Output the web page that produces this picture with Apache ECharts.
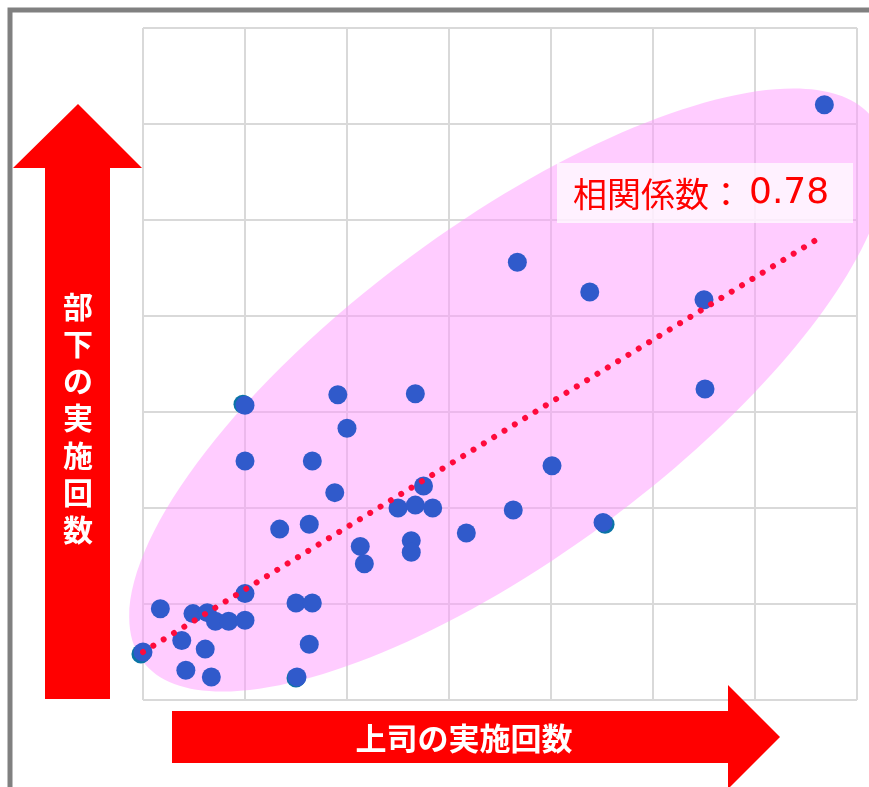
<!DOCTYPE html>
<html>
<head>
<meta charset="utf-8">
<script src="https://cdn.jsdelivr.net/npm/echarts@6/dist/echarts.min.js"></script>
<style>
  html, body { margin: 0; padding: 0; background: #ffffff; }
  #chart { width: 869px; height: 787px; }
</style>
</head>
<body>
<div id="chart"></div>
<script>
// 上司の実施回数 (x) と 部下の実施回数 (y)
var xValues = [0.0, 1.7, 3.8, 4.2, 4.9, 6.1, 6.3, 6.7, 7.1, 8.4, 10.0, 10.0, 10.0, 10.0, 13.4, 15.0, 15.1, 16.3, 16.3, 16.6, 16.6, 18.8, 19.1, 20.0, 21.3, 21.7, 25.0, 26.3, 26.3, 26.7, 26.7, 27.5, 28.4, 31.7, 36.3, 36.7, 40.1, 43.8, 45.1, 55.0, 55.1, 66.8];
var yValues = [5.0, 9.5, 6.2, 3.1, 9.0, 5.3, 9.1, 2.4, 8.2, 8.2, 8.3, 11.1, 30.7, 24.9, 17.8, 10.1, 2.4, 18.3, 5.8, 10.1, 24.9, 21.6, 31.8, 28.3, 16.0, 14.2, 20.0, 16.6, 15.4, 20.3, 31.9, 22.3, 20.0, 17.4, 19.8, 45.6, 24.4, 42.5, 18.5, 41.7, 32.4, 62.0];
// partially hidden second-colour markers
var tealX = [-0.2, 9.8, 45.3, 15.0];
var tealY = [4.8, 30.8, 18.3, 2.3];
// trend line end points
var trendX = [0, 66.1];
var trendY = [5.0, 48.0];
var corrPrefix = '相関係数：';
var corrValue = '0.78';
var xTitle = '上司の実施回数';
var yTitle = '部下の実施回数';

function pairs(xs, ys) { return xs.map(function (x, i) { return [x, ys[i]]; }); }

var chart = echarts.init(document.getElementById('chart'), null, { renderer: 'canvas' });
var FONT = '"Noto Sans CJK JP", "Noto Sans", sans-serif';

var option = {
  animation: false,
  backgroundColor: '#ffffff',
  grid: { left: 143, right: 12, top: 28, bottom: 87, show: false },
  xAxis: {
    type: 'value', min: 0, max: 70, interval: 10,
    axisLine: { show: false }, axisTick: { show: false }, axisLabel: { show: false },
    splitLine: { show: true, lineStyle: { color: '#d9d9d9', width: 2 } }
  },
  yAxis: {
    type: 'value', min: 0, max: 70, interval: 10,
    axisLine: { show: false }, axisTick: { show: false }, axisLabel: { show: false },
    splitLine: { show: true, lineStyle: { color: '#d9d9d9', width: 2 } }
  },
  graphic: [
    { type: 'rect', z: 0, shape: { x: 10, y: 10, width: 1000, height: 1000 },
      style: { fill: null, stroke: '#808080', lineWidth: 5 } },
    { type: 'ellipse', z: 1, x: 508, y: 390, rotation: 36.5 * Math.PI / 180,
      shape: { cx: 0, cy: 0, rx: 455, ry: 165 },
      style: { fill: 'rgba(255,153,255,0.5)' } },
    { type: 'rect', z: 1, shape: { x: 557, y: 163, width: 296, height: 60 },
      style: { fill: 'rgba(255,255,255,0.72)' } },
    { type: 'text', z: 5, x: 573, y: 194,
      style: {
        text: '{a|' + corrPrefix + '}{b|' + corrValue + '}',
        textAlign: 'left', textVerticalAlign: 'middle',
        rich: {
          a: { fill: '#ff0000', font: '34px ' + FONT },
          b: { fill: '#ff0000', font: '36px "DejaVu Sans", sans-serif', padding: [0, 0, 0, 6] }
        }
      } },
    { type: 'polygon', z: 5,
      shape: { points: [[78, 104], [142, 168], [110, 168], [110, 699], [45, 699], [45, 168], [13, 168]] },
      style: { fill: '#ff0000' } },
    { type: 'text', z: 6, x: 78, y: 418,
      style: { text: yTitle.split('').join('\n'), fill: '#ffffff', font: 'bold 30px ' + FONT,
               lineHeight: 37.2, textAlign: 'center', textVerticalAlign: 'middle' } },
    { type: 'polygon', z: 5,
      shape: { points: [[172, 711], [728, 711], [728, 685], [780, 737], [728, 789], [728, 763], [172, 763]] },
      style: { fill: '#ff0000' } },
    { type: 'text', z: 6, x: 464, y: 738,
      style: { text: xTitle, fill: '#ffffff', font: 'bold 31px ' + FONT,
               textAlign: 'center', textVerticalAlign: 'middle' } }
  ],
  series: [
    {
      type: 'scatter', z: 2, clip: false, symbolSize: 19,
      itemStyle: { color: '#0a74a6', opacity: 1 },
      data: pairs(tealX, tealY)
    },
    {
      type: 'scatter', z: 3, clip: false, symbolSize: 19,
      itemStyle: { color: '#305acb', opacity: 1 },
      data: pairs(xValues, yValues)
    },
    {
      type: 'line', z: 4, clip: false, symbol: 'none', silent: true,
      lineStyle: { color: '#ff0a3c', width: 6, type: [0.01, 12.1], cap: 'round' },
      data: pairs(trendX, trendY)
    }
  ]
};
chart.setOption(option);
</script>
</body>
</html>
